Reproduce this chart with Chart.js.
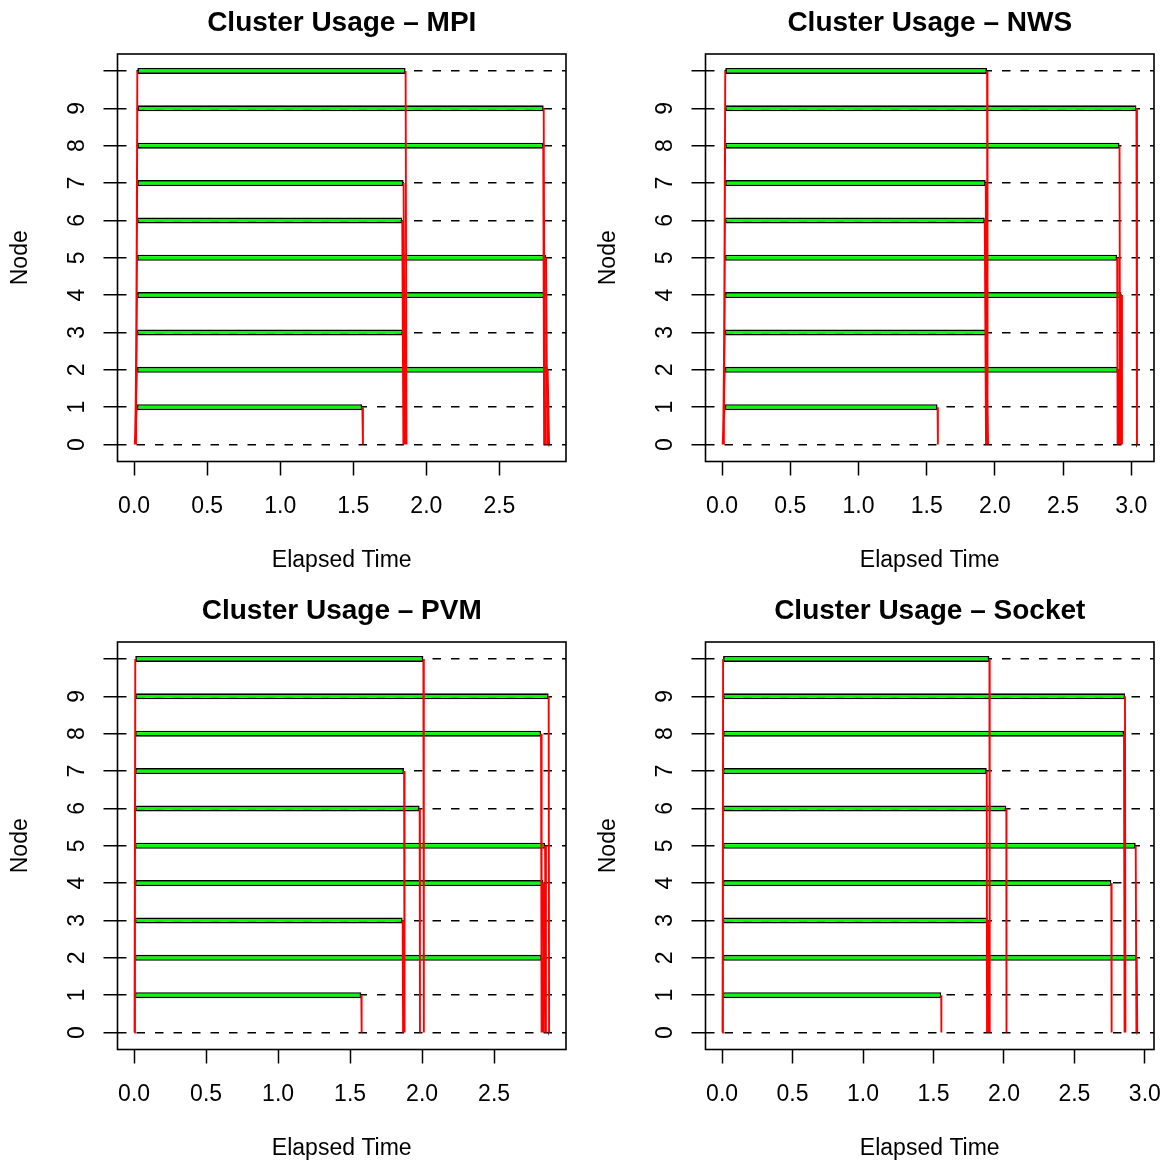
<!DOCTYPE html>
<html>
<head>
<meta charset="utf-8">
<script src="https://cdn.jsdelivr.net/npm/chart.js@4.4.1/dist/chart.umd.min.js"></script>
<style>
  body { margin: 0; background: #fff; }
  .wrap { position: relative; width: 1174px; height: 1165px; }
  canvas { position: absolute; }
</style>
</head>
<body>
<div class="wrap">
  <canvas id="mpi" width="586" height="577" style="left:0;top:0"></canvas>
  <canvas id="nws" width="586" height="577" style="left:588px;top:0"></canvas>
  <canvas id="pvm" width="586" height="577" style="left:0;top:588px"></canvas>
  <canvas id="sock" width="586" height="577" style="left:588px;top:588px"></canvas>
</div>
<script>
// worker nodes 1..10, master is node 0
var nodes = [1, 2, 3, 4, 5, 6, 7, 8, 9, 10];
var yTicks = [0, 1, 2, 3, 4, 5, 6, 7, 8, 9, 10];
var yTickLabels = ['0', '1', '2', '3', '4', '5', '6', '7', '8', '9', ''];

// MPI
var mpiSent  = [0.004, 0.005, 0.006, 0.007, 0.008, 0.009, 0.010, 0.011, 0.012, 0.013];
var mpiStart = [0.018, 0.019, 0.019, 0.020, 0.020, 0.020, 0.021, 0.021, 0.022, 0.022];
var mpiEnd   = [1.562, 2.830, 1.840, 2.807, 2.819, 1.835, 1.844, 2.800, 2.803, 1.858];
var mpiBack  = [1.566, 2.840, 1.848, 2.814, 2.828, 1.843, 1.853, 2.806, 2.810, 1.864];
var mpiMaster = [[0, 0.004], [2.836, 2.842]];
var mpiElapsed = 2.842;
var mpiXTicks = [0, 0.5, 1, 1.5, 2, 2.5];

// NWS
var nwsSent  = [0.004, 0.005, 0.006, 0.007, 0.008, 0.009, 0.010, 0.011, 0.012, 0.013];
var nwsStart = [0.018, 0.019, 0.019, 0.020, 0.020, 0.021, 0.021, 0.022, 0.022, 0.023];
var nwsEnd   = [1.580, 2.904, 1.940, 2.928, 2.897, 1.926, 1.933, 2.914, 3.038, 1.943];
var nwsBack  = [1.582, 2.908, 1.950, 2.932, 2.900, 1.935, 1.940, 2.918, 3.042, 1.946];
var nwsMaster = [[0, 0.004], [3.036, 3.043]];
var nwsElapsed = 3.045;
var nwsXTicks = [0, 0.5, 1, 1.5, 2, 2.5, 3];

// PVM
var pvmSent  = [0.001, 0.001, 0.002, 0.002, 0.002, 0.003, 0.003, 0.003, 0.004, 0.004];
var pvmStart = [0.005, 0.005, 0.006, 0.006, 0.006, 0.007, 0.007, 0.007, 0.008, 0.008];
var pvmEnd   = [1.578, 2.831, 1.865, 2.842, 2.854, 1.983, 1.875, 2.826, 2.879, 2.009];
var pvmBack  = [1.580, 2.838, 1.868, 2.846, 2.860, 1.985, 1.878, 2.830, 2.882, 2.012];
var pvmMaster = [[0, 0.003], [2.876, 2.882]];
var pvmElapsed = 2.884;
var pvmXTicks = [0, 0.5, 1, 1.5, 2, 2.5];

// Socket
var sockSent  = [0.001, 0.001, 0.002, 0.002, 0.002, 0.003, 0.003, 0.003, 0.004, 0.004];
var sockStart = [0.004, 0.005, 0.005, 0.005, 0.006, 0.006, 0.006, 0.007, 0.007, 0.007];
var sockEnd   = [1.555, 2.942, 1.885, 2.762, 2.935, 2.017, 1.878, 2.852, 2.859, 1.897];
var sockBack  = [1.556, 2.946, 1.889, 2.764, 2.940, 2.018, 1.880, 2.856, 2.862, 1.899];
var sockMaster = [[0, 0.003], [2.941, 2.947]];
var sockElapsed = 2.947;
var sockXTicks = [0, 0.5, 1, 1.5, 2, 2.5, 3];

var FONT = "'Liberation Sans', Arial, Helvetica, sans-serif";

// R style box around the plot region
var plotBox = {
  id: 'plotBox',
  beforeDatasetsDraw: function(chart) {
    var a = chart.chartArea, ctx = chart.ctx;
    ctx.save();
    ctx.strokeStyle = '#000';
    ctx.lineWidth = 1.6;
    ctx.strokeRect(a.left, a.top, a.right - a.left, a.bottom - a.top);
    ctx.restore();
  }
};

function makePanel(id, title, sent, start, end, back, master, elapsed, xTicks) {
  var bars = [];
  var red = [];
  for (var i = 0; i < nodes.length; i++) {
    bars.push({x: [start[i], end[i]], y: nodes[i]});
    red.push({x: sent[i], y: 0}, {x: start[i], y: nodes[i]}, {x: null, y: null});
    red.push({x: end[i], y: nodes[i]}, {x: back[i], y: 0}, {x: null, y: null});
  }
  master.forEach(function(m) { bars.push({x: m, y: 0}); });

  new Chart(document.getElementById(id), {
    type: 'bar',
    data: {
      datasets: [
        {
          type: 'line',
          indexAxis: 'x',
          data: red,
          borderColor: '#ff0000',
          borderWidth: 1.9,
          pointRadius: 0,
          tension: 0,
          spanGaps: false,
          fill: false
        },
        {
          type: 'bar',
          indexAxis: 'y',
          data: bars,
          backgroundColor: '#00ff00',
          borderColor: '#000',
          borderWidth: 1.6,
          borderSkipped: false,
          barThickness: 6,
          inflateAmount: 0
        }
      ]
    },
    options: {
      responsive: false,
      animation: false,
      events: [],
      layout: { padding: { top: 0, right: 20, left: 0, bottom: 0 } },
      plugins: {
        legend: { display: false },
        tooltip: { enabled: false },
        title: {
          display: true,
          text: title,
          fullSize: false,
          color: '#000',
          font: { family: FONT, size: 28, weight: 'bold', lineHeight: 1.2 },
          padding: { top: 6.2, bottom: 14.2 }
        }
      },
      scales: {
        x: {
          type: 'linear',
          min: -0.04 * elapsed,
          max: 1.04 * elapsed,
          offset: false,
          afterBuildTicks: function(s) { s.ticks = xTicks.map(function(v) { return {value: v}; }); },
          afterFit: function(s) { s.height = 115.5; s.paddingLeft = 0; s.paddingRight = 0; },
          ticks: {
            color: '#000',
            font: { family: FONT, size: 23 },
            padding: 17.5,
            maxRotation: 0,
            autoSkip: false,
            callback: function(v) { return Number(v).toFixed(1); }
          },
          grid: {
            offset: false,
            drawOnChartArea: false,
            drawTicks: true,
            tickLength: 14,
            tickWidth: 1.5,
            tickColor: '#000',
            color: '#000'
          },
          border: { display: false },
          title: {
            display: true,
            text: 'Elapsed Time',
            color: '#000',
            font: { family: FONT, size: 23 },
            padding: { top: 0, bottom: 2.4 }
          }
        },
        y: {
          type: 'linear',
          min: -0.454,
          max: 10.454,
          offset: false,
          afterBuildTicks: function(s) { s.ticks = yTicks.map(function(v) { return {value: v}; }); },
          afterFit: function(s) { s.width = 117.5; s.paddingTop = 0; s.paddingBottom = 0; },
          ticks: {
            color: '#000',
            font: { family: FONT, size: 23 },
            padding: 19.5,
            minRotation: 90,
            maxRotation: 90,
            crossAlign: 'center',
            autoSkip: false,
            callback: function(v, idx) { return yTickLabels[idx]; }
          },
          grid: {
            offset: false,
            drawOnChartArea: true,
            drawTicks: true,
            tickLength: 14,
            tickWidth: 1.5,
            tickColor: '#000',
            tickBorderDash: [],
            color: '#000',
            lineWidth: 1.5
          },
          border: { display: false, dash: [8.5, 10] },
          title: {
            display: true,
            text: 'Node',
            color: '#000',
            font: { family: FONT, size: 23 },
            padding: { top: 7.3, bottom: 0 }
          }
        }
      }
    },
    plugins: [plotBox]
  });
}

makePanel('mpi', 'Cluster Usage \u2013 MPI', mpiSent, mpiStart, mpiEnd, mpiBack, mpiMaster, mpiElapsed, mpiXTicks);
makePanel('nws', 'Cluster Usage \u2013 NWS', nwsSent, nwsStart, nwsEnd, nwsBack, nwsMaster, nwsElapsed, nwsXTicks);
makePanel('pvm', 'Cluster Usage \u2013 PVM', pvmSent, pvmStart, pvmEnd, pvmBack, pvmMaster, pvmElapsed, pvmXTicks);
makePanel('sock', 'Cluster Usage \u2013 Socket', sockSent, sockStart, sockEnd, sockBack, sockMaster, sockElapsed, sockXTicks);
</script>
</body>
</html>
